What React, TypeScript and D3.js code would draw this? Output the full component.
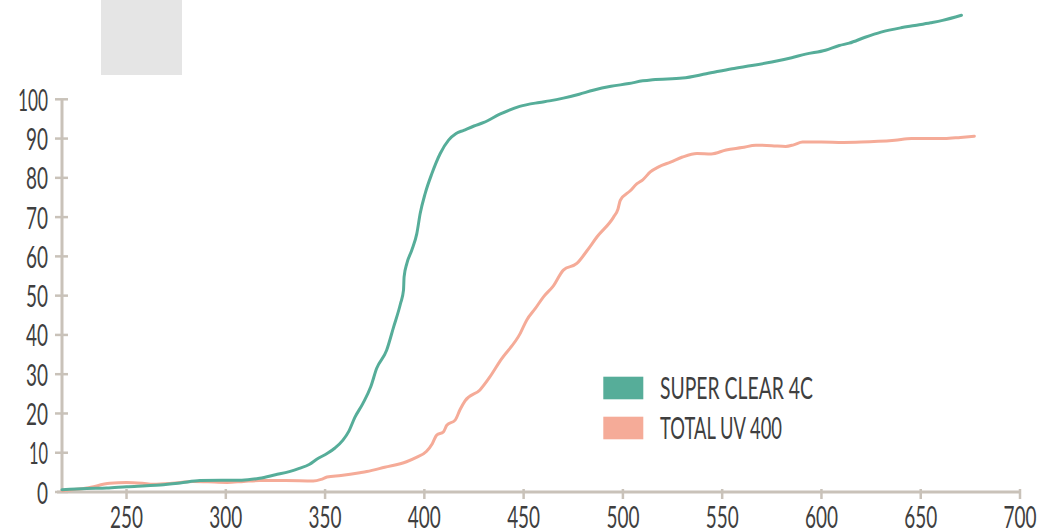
import React from "react";
import * as d3 from "d3";

const superClearX = [217.5,230,240,250,260,267,277,287,298,308,317,325,332,337,342,346,351,355,359,362,365,369,373,376,381,384.5,388,389.5,389.8,391.2,393.7,396.2,397.9,400.4,403.8,408,412.2,416,419.8,425,430,438,448,458,463,470,478,485,494,503,510,515,530,542,555,565,575,585,592,602,609,614,622,630,640,647,655,661,670.5];
const superClearY = [0.6,0.9,1.0,1.35,1.6,1.8,2.3,2.9,3.0,3.0,3.5,4.4,5.2,6.0,7.0,8.4,9.8,11.2,13.2,15.5,19.0,22.5,26.8,31.5,36.1,42,48,51.4,54.8,58.2,61.6,65.8,70.9,76,81.1,86.2,89.6,91.3,92.1,93.2,94.1,96.2,98.2,99.2,99.6,100.3,101.3,102.3,103.3,104,104.7,105,105.4,106.5,107.8,108.6,109.5,110.6,111.5,112.5,113.7,114.3,115.8,117.1,118.2,118.8,119.5,120.1,121.4];

const totalUvX = [217.5,230,241.6,250,258,263.5,273,283.5,291,300.6,309,317,330,344,348,351,358,367.5,371,380,391,396,401,404,406.2,409.6,411.3,415.5,418,420.5,428,433,438.2,448.3,451.6,456,460,465,470,476.8,482,487,495.3,497.5,498.7,503.7,507.1,510,513.8,518,524,530,537.3,544.5,552,560,567,575,582,586,590.5,600,611,620,628.6,637,645.4,655,662,670,677];
const totalUvY = [0.3,1.0,2.2,2.4,2.2,1.95,2.2,2.7,2.6,2.45,2.7,2.9,2.9,2.8,3.2,3.8,4.2,4.9,5.2,6.3,7.7,8.8,10.3,12.3,14.5,15.3,17.0,18.3,21,23.2,26,29.3,33.4,40.4,43.8,46.8,49.7,52.5,56.5,58.2,61.5,65,70,72,74.3,76.7,78.5,79.5,81.5,82.8,84,85.3,86.2,86.1,87.1,87.7,88.3,88.2,88.0,88.4,89.1,89.1,89.0,89.1,89.3,89.6,90.0,90.0,90.0,90.3,90.6];

const xTicks = [250,300,350,400,450,500,550,600,650,700];
const yTicks = [0,10,20,30,40,50,60,70,80,90,100];
const seriesNames = ["SUPER CLEAR 4C", "TOTAL UV 400"];
const seriesColors = ["#56ad99", "#f5ab98"];

const FONT = "Lato, 'Liberation Sans Narrow', 'Liberation Sans', sans-serif";
const AXIS = "#c9c2b9";
const TEXT = "#3f3f3f";

function numLen(s: string) {
  let l = 0;
  for (const c of s) l += c === "1" ? 8 : 11;
  return l;
}

export default function App() {
  const W = 1039, H = 532;
  const x = d3.scaleLinear().domain([217.5, 700]).range([62, 1020]);
  const y = d3.scaleLinear().domain([0, 100]).range([492, 99.3]);
  const line = d3.line<[number, number]>().x(d => x(d[0])).y(d => y(d[1])).curve(d3.curveMonotoneX);
  const s1 = superClearX.map((v, i) => [v, superClearY[i]] as [number, number]);
  const s2 = totalUvX.map((v, i) => [v, totalUvY[i]] as [number, number]);
  const legendTop = [376.7, 416.7];
  const legendLens = [153, 122];

  return (
    <svg width={W} height={H} style={{ position: "absolute", left: 0, top: 0, background: "#fff" }}>
      <rect x={101} y={0} width={81} height={75} fill="#e5e5e5" />
      <line x1={62} x2={62} y1={y(100)} y2={y(0)} stroke={AXIS} strokeWidth={3} />
      {yTicks.map(t => (
        <g key={"y" + t}>
          <line x1={55} x2={68} y1={y(t)} y2={y(t)} stroke={AXIS} strokeWidth={2.5} />
          <text x={48} y={y(t) + 11.5} textAnchor="end" fontFamily={FONT} fontWeight={400} fontSize={31} fill={TEXT}
            textLength={numLen(String(t))} lengthAdjust="spacingAndGlyphs">{t}</text>
        </g>
      ))}
      <line x1={57} x2={x(700)} y1={492} y2={492} stroke={AXIS} strokeWidth={3} />
      {xTicks.map(t => (
        <g key={"x" + t}>
          <line x1={x(t)} x2={x(t)} y1={489} y2={499} stroke={AXIS} strokeWidth={2.5} />
          <text x={x(t)} y={527.5} textAnchor="middle" fontFamily={FONT} fontWeight={400} fontSize={31} fill={TEXT}
            textLength={numLen(String(t))} lengthAdjust="spacingAndGlyphs">{t}</text>
        </g>
      ))}
      <path d={line(s2) || ""} fill="none" stroke={seriesColors[1]} strokeWidth={3} strokeLinejoin="round" strokeLinecap="round" />
      <path d={line(s1) || ""} fill="none" stroke={seriesColors[0]} strokeWidth={3} strokeLinejoin="round" strokeLinecap="round" />
      {seriesNames.map((n, i) => (
        <g key={n}>
          <rect x={603.3} y={legendTop[i]} width={40} height={22.6} fill={seriesColors[i]} />
          <text x={660} y={legendTop[i] + 22} fontFamily={FONT} fontWeight={400} fontSize={31} fill={TEXT}
            textLength={legendLens[i]} lengthAdjust="spacingAndGlyphs">{n}</text>
        </g>
      ))}
    </svg>
  );
}
